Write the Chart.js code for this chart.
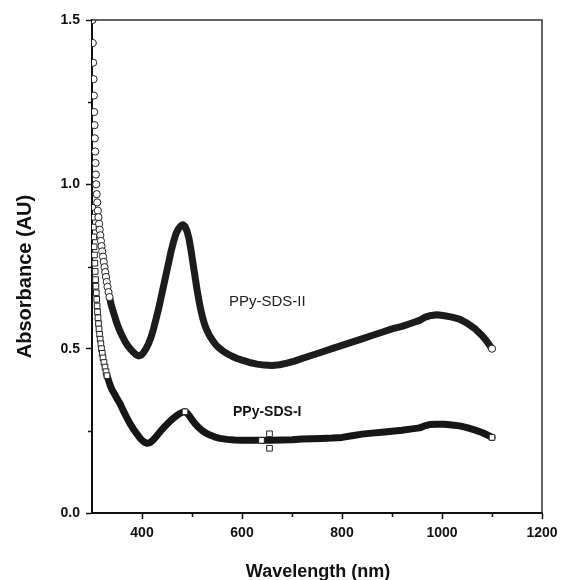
<!DOCTYPE html>
<html>
<head>
<meta charset="utf-8">
<title>PPy-SDS absorbance spectra</title>
<script src="https://cdn.jsdelivr.net/npm/chart.js@4.4.1/dist/chart.umd.min.js"></script>
<style>
  html, body { margin: 0; padding: 0; background: #fff; }
  #wrap { width: 561px; height: 580px; }
</style>
</head>
<body>
<div id="wrap"><canvas id="absChart" width="561" height="580"></canvas></div>
<script>
// PPy-SDS-II (open circles)
const sdsTwoWavelength = [
  301, 301.6, 302.3, 303, 303.7, 304.4, 305, 305.7, 306.4, 307, 307.7, 308.4, 309.4, 310.5, 311.7,
  313, 314.2, 315.4, 316.6, 317.8, 319, 320.4, 322, 323.5, 325, 326.5, 328, 329.5, 331, 333, 335,
  337, 339, 342, 345, 348, 352, 356, 360, 365, 370, 376, 382, 388, 393, 398, 403, 408, 413, 418,
  423, 428, 433, 438, 443, 448, 453, 458, 463, 468, 473, 478, 482, 486, 490, 494, 498, 502, 506,
  510, 514, 518, 522, 526, 530, 535, 540, 546, 552, 560, 570, 580, 590, 600, 615, 630, 645, 660,
  675, 690, 705, 720, 740, 760, 780, 800, 820, 840, 860, 880, 900, 920, 940, 955, 965, 975, 990,
  1005, 1020, 1035, 1050, 1065, 1080, 1090, 1100
];
const sdsTwoAbsorbance = [
  1.50, 1.43, 1.37, 1.32, 1.27, 1.22, 1.18, 1.14, 1.10, 1.065, 1.03, 1.00, 0.97, 0.945, 0.92,
  0.90, 0.88, 0.862, 0.845, 0.828, 0.812, 0.796, 0.78, 0.764, 0.748, 0.733, 0.718, 0.703, 0.688, 0.672, 0.657,
  0.643, 0.63, 0.615, 0.60, 0.585, 0.568, 0.553, 0.54, 0.525, 0.512, 0.50, 0.49, 0.482, 0.478, 0.48, 0.488, 0.50, 0.515, 0.535,
  0.56, 0.59, 0.62, 0.655, 0.69, 0.725, 0.76, 0.795, 0.825, 0.85, 0.865, 0.874, 0.877, 0.872, 0.858, 0.835, 0.80, 0.76, 0.72,
  0.68, 0.645, 0.615, 0.59, 0.57, 0.555, 0.54, 0.528, 0.515, 0.505, 0.495, 0.485, 0.477, 0.47, 0.465, 0.458, 0.453, 0.45, 0.449,
  0.451, 0.456, 0.462, 0.47, 0.48, 0.49, 0.50, 0.51, 0.52, 0.53, 0.54, 0.55, 0.56, 0.568, 0.578, 0.586, 0.595, 0.60, 0.603,
  0.60, 0.596, 0.59, 0.578, 0.562, 0.54, 0.522, 0.50
];

// PPy-SDS-I (open squares)
const sdsOneWavelength = [
  301, 302, 302.8, 303.5, 304.2, 305, 305.7, 306.4, 307.1, 307.8, 308.6, 309.4, 310.2, 311, 312,
  313, 314, 315.2, 316.4, 317.7, 319, 320.5, 322, 324, 326, 328, 330, 333, 336, 340, 345, 350,
  356, 362, 369, 376, 383, 390, 397, 404, 410, 416, 422, 428, 434, 440, 446, 452, 458, 464, 470,
  476, 482, 486, 490, 495, 500, 506, 512, 520, 528, 536, 546, 556, 570, 585, 600, 620, 639, 656,
  680, 700, 720, 740, 760, 780, 800, 820, 840, 860, 880, 900, 920, 940, 955, 965, 975, 990, 1005,
  1020, 1035, 1050, 1065, 1080, 1090, 1100
];
const sdsOneAbsorbance = [
  0.93, 0.90, 0.87, 0.84, 0.81, 0.785, 0.76, 0.735, 0.71, 0.69, 0.67, 0.65, 0.63, 0.612, 0.594,
  0.576, 0.56, 0.544, 0.529, 0.515, 0.50, 0.486, 0.472, 0.458, 0.444, 0.43, 0.418, 0.404, 0.39, 0.375, 0.362, 0.348,
  0.333, 0.313, 0.292, 0.272, 0.255, 0.24, 0.226, 0.216, 0.212, 0.214, 0.222, 0.232, 0.243, 0.254, 0.264, 0.273, 0.282, 0.29, 0.297,
  0.303, 0.307, 0.308, 0.304, 0.295, 0.284, 0.272, 0.262, 0.251, 0.243, 0.237, 0.231, 0.227, 0.224, 0.222, 0.221, 0.221, 0.221, 0.221,
  0.222, 0.223, 0.225, 0.226, 0.227, 0.228, 0.23, 0.235, 0.24, 0.243, 0.246, 0.249, 0.252, 0.256, 0.259, 0.265, 0.269, 0.27, 0.27,
  0.268, 0.265, 0.26, 0.253, 0.245, 0.238, 0.23
];
// two stray readings of PPy-SDS-I near 655 nm
const sdsOneSpikeWavelength = [655, 655];
const sdsOneSpikeAbsorbance = [0.241, 0.197];

const xTickValues = [400, 600, 800, 1000, 1200];
const yTickValues = [0.0, 0.5, 1.0, 1.5];
const xMinorTicks = [500, 700, 900, 1100];
const yMinorTicks = [0.25, 0.75, 1.25];

const FONT = '"Liberation Sans", Arial, Helvetica, sans-serif';
const INK = '#111';

function toPoints(xs, ys) {
  return xs.map((x, i) => ({ x: x, y: ys[i] }));
}

// below `limit` nm the trace is sparse: separate markers, no band
function sparseSegment(wavelengths, limit) {
  return (ctx) => (wavelengths[ctx.p1DataIndex] <= limit ? 'rgba(0,0,0,0)' : undefined);
}
function markerRadius(wavelengths, limit, extra, r) {
  return (ctx) => {
    const wl = wavelengths[ctx.dataIndex];
    if (wl <= limit || extra.includes(wl)) return r;
    return 0;
  };
}

const seriesLabels = [
  { text: 'PPy-SDS-II', x: 574, y: 0.642, font: '15px ' + FONT, color: '#222' },
  { text: 'PPy-SDS-I', x: 582, y: 0.307, font: 'bold 14px ' + FONT, color: INK },
];

const decorPlugin = {
  id: 'decor',
  afterDraw(chart) {
    const { ctx, chartArea: a, scales: { x, y } } = chart;
    ctx.save();
    // frame top / right
    ctx.strokeStyle = '#333';
    ctx.lineWidth = 1.5;
    ctx.beginPath();
    ctx.moveTo(a.left, a.top);
    ctx.lineTo(a.right, a.top);
    ctx.lineTo(a.right, a.bottom);
    ctx.stroke();

    // minor ticks
    ctx.strokeStyle = INK;
    ctx.lineWidth = 1.5;
    ctx.beginPath();
    xMinorTicks.forEach((v) => {
      const px = Math.round(x.getPixelForValue(v)) + 0.5;
      ctx.moveTo(px, a.bottom);
      ctx.lineTo(px, a.bottom + 4);
    });
    yMinorTicks.forEach((v) => {
      const py = Math.round(y.getPixelForValue(v)) + 0.5;
      ctx.moveTo(a.left, py);
      ctx.lineTo(a.left - 4, py);
    });
    ctx.stroke();

    // series labels
    ctx.textBaseline = 'middle';
    ctx.textAlign = 'left';
    seriesLabels.forEach((l) => {
      ctx.font = l.font;
      ctx.fillStyle = l.color;
      ctx.fillText(l.text, x.getPixelForValue(l.x), y.getPixelForValue(l.y));
    });

    // axis titles
    ctx.fillStyle = INK;
    ctx.textAlign = 'center';
    ctx.font = 'bold 18px ' + FONT;
    ctx.fillText('Wavelength (nm)', (a.left + a.right) / 2 + 1, chart.height - 8);
    ctx.translate(25, (a.top + a.bottom) / 2 + 10);
    ctx.rotate(-Math.PI / 2);
    ctx.font = 'bold 20px ' + FONT;
    ctx.fillText('Absorbance (AU)', 0, 0);
    ctx.restore();
  },
};

new Chart(document.getElementById('absChart'), {
  type: 'scatter',
  data: {
    datasets: [
      {
        label: 'PPy-SDS-I',
        data: toPoints(sdsOneWavelength, sdsOneAbsorbance),
        showLine: true,
        borderColor: '#161616',
        borderWidth: 7,
        borderJoinStyle: 'round',
        borderCapStyle: 'round',
        segment: { borderColor: sparseSegment(sdsOneWavelength, 330) },
        pointStyle: 'rect',
        pointRadius: markerRadius(sdsOneWavelength, 330, [486, 639, 1100], 4),
        pointBackgroundColor: '#fff',
        pointBorderColor: '#222',
        pointBorderWidth: 1,
        order: 3,
      },
      {
        label: 'PPy-SDS-I stray',
        data: toPoints(sdsOneSpikeWavelength, sdsOneSpikeAbsorbance),
        showLine: false,
        pointStyle: 'rect',
        pointRadius: 4,
        pointBackgroundColor: '#fff',
        pointBorderColor: '#222',
        pointBorderWidth: 1,
        order: 2,
      },
      {
        label: 'PPy-SDS-II',
        data: toPoints(sdsTwoWavelength, sdsTwoAbsorbance),
        showLine: true,
        borderColor: '#1c1c1c',
        borderWidth: 7,
        borderJoinStyle: 'round',
        borderCapStyle: 'round',
        segment: { borderColor: sparseSegment(sdsTwoWavelength, 335) },
        pointStyle: 'circle',
        pointRadius: markerRadius(sdsTwoWavelength, 335, [1100], 3.6),
        pointBackgroundColor: '#fff',
        pointBorderColor: '#222',
        pointBorderWidth: 1,
        order: 1,
      },
    ],
  },
  options: {
    responsive: false,
    animation: false,
    layout: { padding: { left: 0, right: 19, top: 20, bottom: 0 } },
    plugins: {
      legend: { display: false },
      tooltip: { enabled: false },
    },
    scales: {
      x: {
        type: 'linear',
        min: 300,
        max: 1200,
        afterBuildTicks(scale) {
          scale.ticks = xTickValues.map((v) => ({ value: v }));
        },
        afterFit(scale) {
          scale.height = 67;
          scale.paddingRight = 0;
        },
        border: { color: INK, width: 2 },
        grid: { drawOnChartArea: false, tickLength: 6, tickColor: INK, tickWidth: 1.5 },
        ticks: {
          autoSkip: false,
          padding: 6,
          color: INK,
          font: { family: FONT, size: 14, weight: 'bold' },
          callback: (v) => String(v),
        },
      },
      y: {
        type: 'linear',
        min: 0,
        max: 1.5,
        afterBuildTicks(scale) {
          scale.ticks = yTickValues.map((v) => ({ value: v }));
        },
        afterFit(scale) {
          scale.width = 92;
        },
        border: { color: INK, width: 2 },
        grid: { drawOnChartArea: false, tickLength: 6, tickColor: INK, tickWidth: 1.5 },
        ticks: {
          padding: 6,
          color: INK,
          font: { family: FONT, size: 14, weight: 'bold' },
          callback: (v) => Number(v).toFixed(1),
        },
      },
    },
  },
  plugins: [decorPlugin],
});
</script>
</body>
</html>
